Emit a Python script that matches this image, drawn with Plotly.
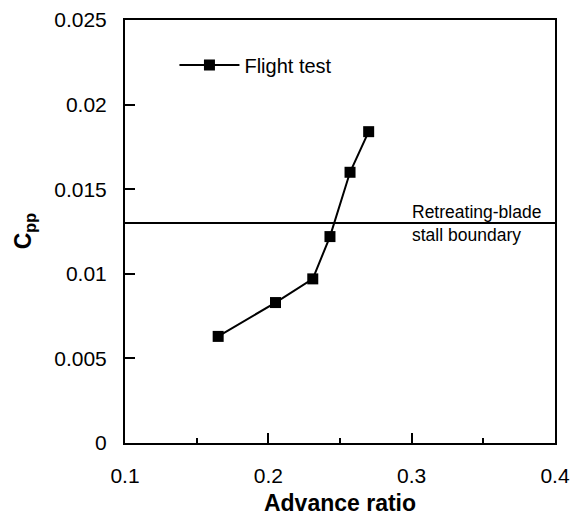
import plotly.graph_objects as go

# Data
advance_ratio = [0.165, 0.205, 0.231, 0.243, 0.257, 0.270]
cpp = [0.0063, 0.0083, 0.0097, 0.0122, 0.0160, 0.0184]
series_name = "Flight test"
stall_boundary = 0.013
stall_label = "Retreating-blade<br>stall boundary"
x_title = "Advance ratio"
y_title = "C<sub>pp</sub>"

FONT = "Liberation Sans, Arial, Helvetica, sans-serif"

fig = go.Figure()
fig.add_trace(go.Scatter(
    x=advance_ratio, y=cpp, mode="lines+markers", name=series_name,
    line=dict(color="black", width=2),
    marker=dict(symbol="square", size=11, color="black"),
    showlegend=True,
))

fig.add_shape(type="line", xref="paper", yref="y", x0=0, x1=1,
              y0=stall_boundary, y1=stall_boundary,
              line=dict(color="black", width=2))

fig.add_annotation(x=0.299, y=stall_boundary, xref="x", yref="y",
                   text=stall_label, showarrow=False, xanchor="left",
                   yanchor="middle", align="left",
                   font=dict(family=FONT, size=17.5, color="black"))

fig.add_annotation(x=-0.233, y=0.5, xref="paper", yref="paper",
                   text="<b>" + y_title + "</b>", showarrow=False,
                   textangle=-90, xanchor="center", yanchor="middle",
                   font=dict(family=FONT, size=23, color="black"))

fig.update_layout(
    width=574, height=516,
    margin=dict(l=125, r=19, t=20, b=73, autoexpand=False),
    paper_bgcolor="white", plot_bgcolor="white",
    font=dict(family=FONT, size=21, color="black"),
    legend=dict(x=0.115, y=0.94, xanchor="left", yanchor="top",
                itemwidth=60,
                bgcolor="rgba(0,0,0,0)", borderwidth=0,
                font=dict(family=FONT, size=20, color="black")),
)

fig.update_xaxes(
    range=[0.1, 0.4], dtick=0.1, tick0=0.1, automargin=False,
    showgrid=False, zeroline=False,
    showline=True, linecolor="black", linewidth=2, mirror=True,
    ticks="inside", ticklen=10, tickwidth=1.5, tickcolor="black",
    minor=dict(ticks="inside", ticklen=5, tickwidth=1.5, tickcolor="black", dtick=0.05, showgrid=False),
    ticklabelstandoff=13,
    tickfont=dict(family=FONT, size=21),
    title=dict(text="<b>" + x_title + "</b>", font=dict(family=FONT, size=23), standoff=13),
)
fig.update_yaxes(
    range=[0, 0.025], dtick=0.005, tick0=0, automargin=False,
    showgrid=False, zeroline=False,
    showline=True, linecolor="black", linewidth=2, mirror=True,
    ticks="inside", ticklen=10, tickwidth=1.5, tickcolor="black",
    ticklabelstandoff=12,
    tickfont=dict(family=FONT, size=21),
)

fig.write_html("out.html")
